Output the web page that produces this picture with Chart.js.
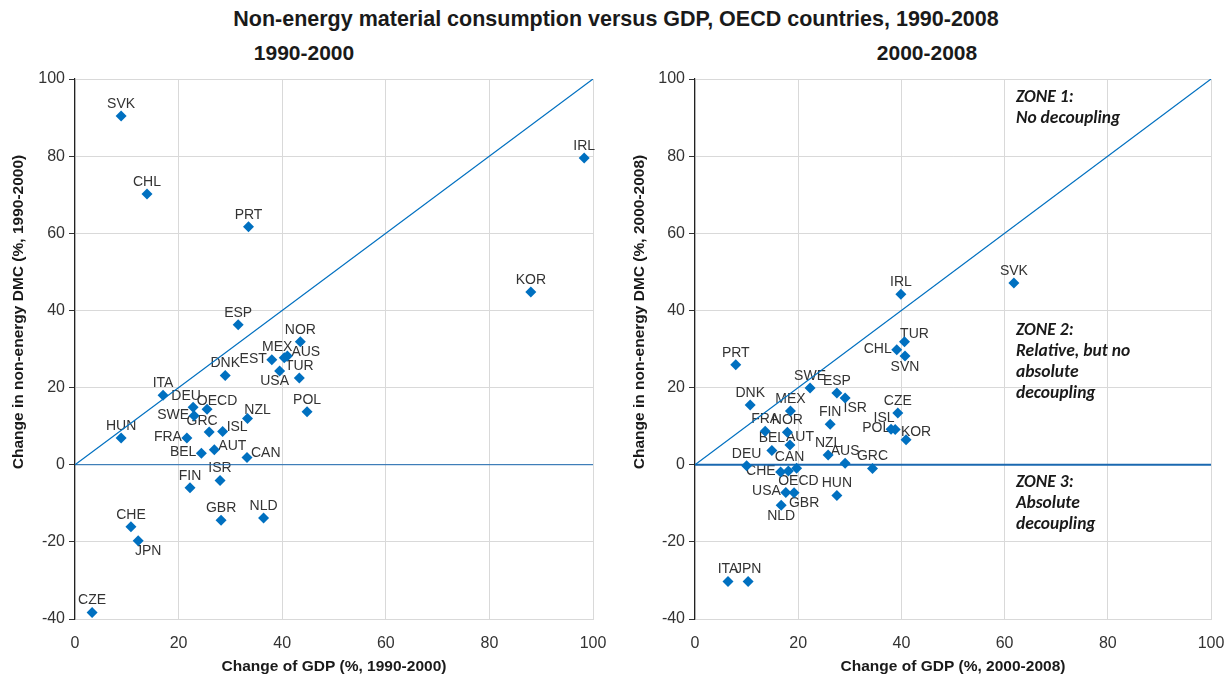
<!DOCTYPE html>
<html>
<head>
<meta charset="utf-8">
<script src="https://cdn.jsdelivr.net/npm/chart.js@4.4.1/dist/chart.umd.min.js"></script>
<style>
  body { margin: 0; background: #fff; width: 1231px; height: 676px; position: relative; overflow: hidden; }
  .t { position: absolute; font-family: 'Liberation Sans', Arial, sans-serif; font-weight: bold; color: #1a1a1a; white-space: nowrap; transform: translateX(-50%); line-height: 1; }
  #main { left: 616px; top: 9px; font-size: 21.5px; }
  #sub1 { left: 304px; top: 42px; font-size: 21px; }
  #sub2 { left: 927px; top: 42px; font-size: 21px; }
  canvas { position: absolute; top: 0; }
</style>
</head>
<body>
<div class="t" id="main">Non-energy material consumption versus GDP, OECD countries, 1990-2008</div>
<div class="t" id="sub1">1990-2000</div>
<div class="t" id="sub2">2000-2008</div>
<canvas id="left" width="615" height="676" style="left:0"></canvas>
<canvas id="right" width="616" height="676" style="left:615px"></canvas>
<script>
  // 1990-2000
  const codes1 = ['SVK','CHL','PRT','IRL','KOR','ESP','NOR','MEX','AUS','EST','USA','TUR','DNK','ITA','POL',
    'DEU','OECD','SWE','NZL','HUN','FRA','GRC','ISL','BEL','AUT','CAN','FIN','ISR','GBR','NLD','CHE','JPN','CZE'];
  const gdp1 = [8.9, 13.9, 33.5, 98.3, 88.0, 31.5, 43.5, 40.4, 41.0, 38.0, 39.5, 43.3, 29.0, 17.0, 44.8,
    22.8, 25.5, 23.0, 33.3, 8.9, 21.6, 25.9, 28.5, 24.4, 26.9, 33.2, 22.2, 28.0, 28.2, 36.4, 10.8, 12.2, 3.3];
  const dmc1 = [90.4, 70.2, 61.7, 79.5, 44.8, 36.3, 31.9, 27.7, 28.2, 27.2, 24.3, 22.5, 23.1, 18.0, 13.7,
    14.9, 14.4, 12.7, 12.0, 6.9, 6.9, 8.5, 8.6, 3.0, 3.9, 1.9, -6.0, -4.1, -14.4, -13.8, -16.1, -19.7, -38.3];
  const place1 = ['a','a','a','a','a','a','a','al','r','l','bl','a','a','a','a',
    'al','ar','l','ar','a','l','al','r','l','r','r','a','a','a','a','a','br','a'];

  // 2000-2008
  const codes2 = ['PRT','DNK','SWE','ESP','ISR','MEX','FRA','NOR','FIN','BEL','AUT','NZL','AUS','GRC','DEU',
    'CHE','CAN','OECD','USA','GBR','NLD','HUN','CZE','ISL','POL','KOR','TUR','CHL','SVN','IRL','SVK','ITA','JPN'];
  const gdp2 = [7.9, 10.7, 22.3, 27.5, 29.1, 18.5, 13.6, 17.9, 26.2, 14.9, 18.4, 25.8, 29.1, 34.4, 10.0,
    16.6, 19.7, 18.1, 17.6, 19.2, 16.7, 27.5, 39.3, 38.0, 38.8, 40.9, 40.6, 39.1, 40.7, 39.9, 61.8, 6.4, 10.3];
  const dmc2 = [25.9, 15.5, 19.9, 18.6, 17.3, 13.9, 8.7, 8.4, 10.5, 3.7, 5.1, 2.5, 0.4, -1.0, -0.3,
    -1.9, -0.9, -1.6, -7.2, -7.3, -10.5, -8.0, 13.4, 9.2, 9.1, 6.5, 31.9, 29.8, 28.2, 44.2, 47.1, -30.3, -30.3];
  const place2 = ['a','a','a','a','br','a','a','a','a','a','ar','a','a','a','a',
    'l','al','br','l','br','b','a','a','al','l','ar','ar','l','b','a','a','a','a'];

  const diagX = [0, 100], diagY = [0, 100];
  const zeroX = [0, 100], zeroY = [0, 0];
  const xTicks = [0, 20, 40, 60, 80, 100];
  const yTicks = [-40, -20, 0, 20, 40, 60, 80, 100];

  const zones = [
    { x: 62.2, y: 95.3, lines: ['ZONE 1:', 'No decoupling'] },
    { x: 62.2, y: 34.7, lines: ['ZONE 2:', 'Relative, but no', 'absolute', 'decoupling'] },
    { x: 62.2, y: -4.7, lines: ['ZONE 3:', 'Absolute', 'decoupling'] }
  ];

  const FONT = "'Liberation Sans', Arial, sans-serif";
  const BLUE = '#0070C0';

  const OFFS = {
    a: [0, -12, 'center'], al: [-7, -11, 'center'], ar: [10, -8, 'center'],
    l: [-5, -1, 'right'], r: [4, -4, 'left'], b: [0, 11, 'center'],
    bl: [-5, 10, 'center'], br: [10, 10, 'center']
  };

  const pointLabels = {
    id: 'pointLabels',
    beforeDatasetsDraw(chart) {
      const ds = chart.data.datasets[0];
      const meta = chart.getDatasetMeta(0);
      const ctx = chart.ctx;
      ctx.save();
      ctx.font = '14px ' + FONT;
      ctx.fillStyle = '#333';
      ctx.textBaseline = 'middle';
      meta.data.forEach((pt, i) => {
        const o = OFFS[ds.place[i]];
        ctx.textAlign = o[2];
        ctx.fillText(ds.codes[i], pt.x + o[0], pt.y + o[1]);
      });
      ctx.restore();
    }
  };

  const axisTitles = {
    id: 'axisTitles',
    afterDraw(chart, args, opts) {
      const ctx = chart.ctx;
      ctx.save();
      ctx.font = 'bold 15.5px ' + FONT;
      ctx.fillStyle = '#1a1a1a';
      ctx.textAlign = 'center';
      ctx.textBaseline = 'middle';
      ctx.fillText(opts.x, opts.xPos[0], opts.xPos[1]);
      ctx.translate(opts.yPos[0], opts.yPos[1]);
      ctx.rotate(-Math.PI / 2);
      ctx.fillText(opts.y, 0, 0);
      ctx.restore();
    }
  };

  const zoneText = {
    id: 'zoneText',
    afterDatasetsDraw(chart, args, opts) {
      if (!opts.zones) return;
      const ctx = chart.ctx, xs = chart.scales.x, ys = chart.scales.y;
      ctx.save();
      ctx.font = 'italic bold 17.5px Carlito, Lato, sans-serif';
      ctx.fillStyle = '#1a1a1a';
      ctx.textAlign = 'left';
      ctx.textBaseline = 'middle';
      opts.zones.forEach(z => {
        z.lines.forEach((t, k) => ctx.fillText(t, xs.getPixelForValue(z.x), ys.getPixelForValue(z.y) + k * 21));
      });
      ctx.restore();
    }
  };

  function makeChart(id, codes, gdp, dmc, place, yAxisW, padRight, zeroWidth, titles, zoneList) {
    return new Chart(document.getElementById(id), {
      type: 'scatter',
      data: {
        datasets: [{
          data: gdp.map((v, i) => ({ x: v, y: dmc[i] })),
          codes: codes,
          place: place,
          pointStyle: 'rectRot',
          pointRadius: 5.5,
          backgroundColor: BLUE,
          borderColor: BLUE,
          borderWidth: 0,
          order: 0
        }, {
          data: diagX.map((v, i) => ({ x: v, y: diagY[i] })),
          showLine: true, pointRadius: 0, borderColor: BLUE, borderWidth: 1.2, order: 1
        }, {
          data: zeroX.map((v, i) => ({ x: v, y: zeroY[i] })),
          showLine: true, pointRadius: 0, borderColor: '#1A68B0', borderWidth: zeroWidth, order: 1
        }]
      },
      options: {
        responsive: false,
        animation: false,
        events: [],
        layout: { padding: { left: 0, right: padRight, top: 79, bottom: 0 } },
        plugins: {
          legend: { display: false },
          tooltip: { enabled: false },
          axisTitles: titles,
          zoneText: { zones: zoneList }
        },
        scales: {
          x: {
            type: 'linear', min: 0, max: 100,
            afterBuildTicks: s => { s.ticks = xTicks.map(v => ({ value: v })); },
            afterFit: s => { s.height = 57; s.paddingLeft = 0; s.paddingRight = 0; },
            grid: { color: '#D9D9D9', drawTicks: false },
            border: { color: '#D9D9D9' },
            ticks: { font: { family: FONT, size: 16 }, color: '#333', padding: 15 }
          },
          y: {
            type: 'linear', min: -40, max: 100,
            afterBuildTicks: s => { s.ticks = yTicks.map(v => ({ value: v })); },
            afterFit: s => { s.width = yAxisW; s.paddingTop = 0; s.paddingBottom = 0; },
            grid: { color: '#D9D9D9', tickColor: '#333', tickLength: 6 },
            border: { color: '#222', width: 1.2 },
            ticks: { font: { family: FONT, size: 16 }, color: '#333', padding: 4 }
          }
        }
      },
      plugins: [pointLabels, axisTitles, zoneText]
    });
  }

  makeChart('left', codes1, gdp1, dmc1, place1, 75, 22, 1,
    { x: 'Change of GDP (%, 1990-2000)', xPos: [334, 667], y: 'Change in non-energy DMC (%, 1990-2000)', yPos: [19, 312] }, null);
  makeChart('right', codes2, gdp2, dmc2, place2, 80, 20, 2,
    { x: 'Change of GDP (%, 2000-2008)', xPos: [338, 667], y: 'Change in non-energy DMC (%, 2000-2008)', yPos: [25, 312] }, zones);
</script>
</body>
</html>
